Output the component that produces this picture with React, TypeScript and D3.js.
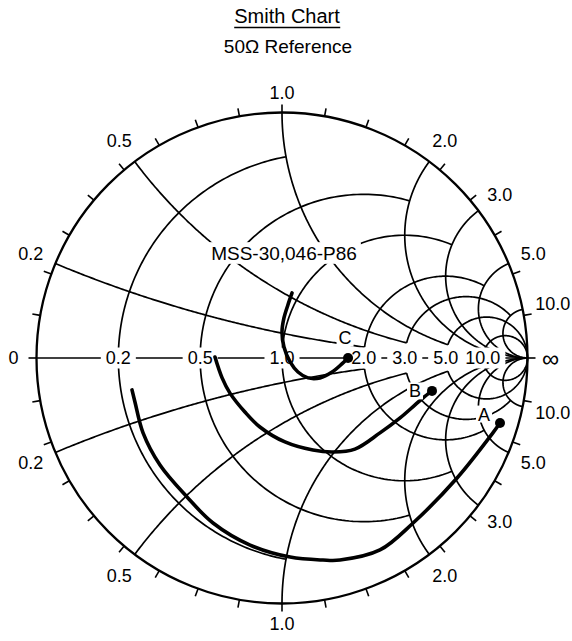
import * as d3 from "d3";
import { useEffect, useRef } from "react";

const W = 572;
const H = 641;

// normalized grid values
const resistances = [0.2, 0.5, 1, 2, 3, 5, 10];
const reactances = [0.2, 0.5, 1, 2, 3, 5, 10];
// |x| span drawn on each resistance circle
const resistanceSpan = [[0, 1], [0, 2], [0, 3], [0.2, 5], [0.5, 10], [1, Infinity], [2, Infinity]];
// resistance at which each reactance arc stops
const reactanceEnd = [2, 3, 5, 10, Infinity, Infinity, Infinity];

const axisLabels = ["0.2", "0.5", "1.0", "2.0", "3.0", "5.0", "10.0"];
const rimLabels = ["0.2", "0.5", "1.0", "2.0", "3.0", "5.0", "10.0"];

// measured reflection coefficient, [re, im]
const traceA = [
  [-0.611, -0.13], [-0.599, -0.179], [-0.566, -0.305], [-0.497, -0.436], [-0.387, -0.566],
  [-0.281, -0.672], [-0.13, -0.762], [0.033, -0.811], [0.167, -0.823], [0.236, -0.823],
  [0.399, -0.782], [0.534, -0.672], [0.713, -0.489], [0.859, -0.305], [0.888, -0.265]
];
const traceB = [
  [-0.273, 0.004], [-0.244, -0.081], [-0.212, -0.143], [-0.151, -0.22], [-0.09, -0.281],
  [0.012, -0.342], [0.126, -0.375], [0.208, -0.383], [0.297, -0.371], [0.399, -0.305],
  [0.481, -0.244], [0.542, -0.191], [0.574, -0.163], [0.611, -0.134]
];
const traceC = [
  [0.041, 0.265], [0.024, 0.216], [0.008, 0.163], [0.0, 0.106], [0.008, 0.045],
  [0.033, -0.016], [0.065, -0.057], [0.106, -0.081], [0.155, -0.081], [0.204, -0.057],
  [0.244, -0.024], [0.269, 0.0]
];
const traces = [
  { name: "A", data: traceA, dx: -16, dy: -9 },
  { name: "B", data: traceB, dx: -17, dy: 0 },
  { name: "C", data: traceC, dx: -3, dy: -20 }
];

const font = "'Liberation Sans', Arial, Helvetica, sans-serif";

const gamma = (r: number, x: number): [number, number] => {
  const d = (r + 1) * (r + 1) + x * x;
  return [(r * r + x * x - 1) / d, (2 * x) / d];
};

export default function App() {
  const ref = useRef<SVGSVGElement>(null);

  useEffect(() => {
    const svg = d3.select(ref.current);
    svg.selectAll("*").remove();

    const cx = 282, cy = 358, R = 245.5;
    const sx = d3.scaleLinear().domain([-1, 1]).range([cx - R, cx + R]);
    const sy = d3.scaleLinear().domain([-1, 1]).range([cy + R, cy - R]);
    const line = d3.line<number[]>().x(d => sx(d[0])).y(d => sy(d[1]));

    // title
    const title = svg.append("text")
      .attr("x", 287).attr("y", 23)
      .attr("text-anchor", "middle")
      .style("font-family", font).style("font-size", "20px")
      .text("Smith Chart");
    const tb = (title.node() as SVGTextElement).getBBox();
    svg.append("line")
      .attr("x1", tb.x).attr("x2", tb.x + tb.width)
      .attr("y1", 27.5).attr("y2", 27.5)
      .attr("stroke", "#000").attr("stroke-width", 1.3);
    svg.append("text")
      .attr("x", 288).attr("y", 53)
      .attr("text-anchor", "middle")
      .style("font-family", font).style("font-size", "19px")
      .text("50\u03A9 Reference");

    const grid = svg.append("g")
      .attr("fill", "none").attr("stroke", "#000").attr("stroke-width", 1.7);

    const rArc = (r: number, a: number, b: number) => {
      const t0 = Math.atan(a), t1 = Math.atan(b);
      return d3.range(0, 201).map(i => gamma(r, Math.tan(t0 + (t1 - t0) * i / 200)));
    };
    const xArc = (x: number, rEnd: number) => {
      const t1 = Math.atan(rEnd);
      return d3.range(0, 201).map(i => gamma(Math.tan(t1 * i / 200), x));
    };

    resistances.forEach((r, i) => {
      const [lo, hi] = resistanceSpan[i];
      if (lo === 0) {
        grid.append("path").attr("d", line(rArc(r, -hi, hi)));
      } else {
        grid.append("path").attr("d", line(rArc(r, lo, hi)));
        grid.append("path").attr("d", line(rArc(r, -hi, -lo)));
      }
    });

    reactances.forEach((x, i) => {
      grid.append("path").attr("d", line(xArc(x, reactanceEnd[i])));
      grid.append("path").attr("d", line(xArc(-x, reactanceEnd[i])));
    });

    // real axis
    grid.append("line")
      .attr("x1", sx(-1)).attr("x2", sx(1))
      .attr("y1", sy(0)).attr("y2", sy(0));

    // outer circle and ticks
    svg.append("circle")
      .attr("cx", sx(0)).attr("cy", sy(0)).attr("r", sx(1) - sx(0))
      .attr("fill", "none").attr("stroke", "#000").attr("stroke-width", 2.3);
    const rad = sx(1) - sx(0);
    d3.range(0, 360, 10).forEach(deg => {
      const a = deg * Math.PI / 180;
      svg.append("line")
        .attr("x1", sx(0) + rad * Math.cos(a)).attr("y1", sy(0) - rad * Math.sin(a))
        .attr("x2", sx(0) + (rad + 8) * Math.cos(a)).attr("y2", sy(0) - (rad + 8) * Math.sin(a))
        .attr("stroke", "#000").attr("stroke-width", 1.6);
    });

    const boxedText = (x: number, y: number, s: string, size: number, padX: number, padY: number) => {
      const g = svg.append("g");
      const rect = g.append("rect").attr("fill", "#fff");
      const t = g.append("text")
        .attr("x", x).attr("y", y).attr("dy", "0.36em")
        .attr("text-anchor", "middle")
        .style("font-family", font).style("font-size", size + "px")
        .text(s);
      const b = (t.node() as SVGTextElement).getBBox();
      const capH = size * 0.72;
      rect.attr("x", b.x - padX).attr("width", b.width + 2 * padX)
        .attr("y", y - capH / 2 - padY).attr("height", capH + 2 * padY);
    };

    // axis labels
    resistances.forEach((r, i) => {
      boxedText(sx(gamma(r, 0)[0]), sy(0), axisLabels[i], 18, 5, 4);
    });

    // rim labels
    const rimItems: { g: [number, number]; s: string }[] = [];
    reactances.forEach((x, i) => {
      rimItems.push({ g: gamma(0, x), s: rimLabels[i] });
      rimItems.push({ g: gamma(0, -x), s: rimLabels[i] });
    });
    rimItems.push({ g: [-1, 0], s: "0" });
    rimItems.push({ g: [1, 0], s: "\u221E" });
    rimItems.forEach(({ g, s }) => {
      const a = Math.atan2(g[1], g[0]);
      const t = svg.append("text")
        .attr("text-anchor", "middle").attr("dy", "0.36em")
        .style("font-family", font).style("font-size", s === "\u221E" ? "24px" : "18px")
        .text(s);
      const w = (t.node() as SVGTextElement).getComputedTextLength();
      const hw = Math.max(w / 2, 11);
      const d = 12 + Math.abs(Math.cos(a)) * hw + Math.abs(Math.sin(a)) * 8;
      t.attr("x", sx(0) + (rad + d) * Math.cos(a)).attr("y", sy(0) - (rad + d) * Math.sin(a));
    });

    // part number
    boxedText(284, 253, "MSS-30,046-P86", 19, 4, 4);

    // traces
    const curve = d3.line<number[]>().x(d => sx(d[0])).y(d => sy(d[1])).curve(d3.curveCatmullRom);
    traces.forEach(tr => {
      svg.append("path")
        .attr("d", curve(tr.data))
        .attr("fill", "none").attr("stroke", "#000").attr("stroke-width", 3.6)
        .attr("stroke-linecap", "round");
      const end = tr.data[tr.data.length - 1];
      svg.append("circle")
        .attr("cx", sx(end[0])).attr("cy", sy(end[1])).attr("r", 5).attr("fill", "#000");
      boxedText(sx(end[0]) + tr.dx, sy(end[1]) + tr.dy, tr.name, 18, 2, 2);
    });
  }, []);

  return (
    <svg ref={ref} width={W} height={H}
      style={{ position: "absolute", left: 0, top: 0, background: "#fff" }} />
  );
}
